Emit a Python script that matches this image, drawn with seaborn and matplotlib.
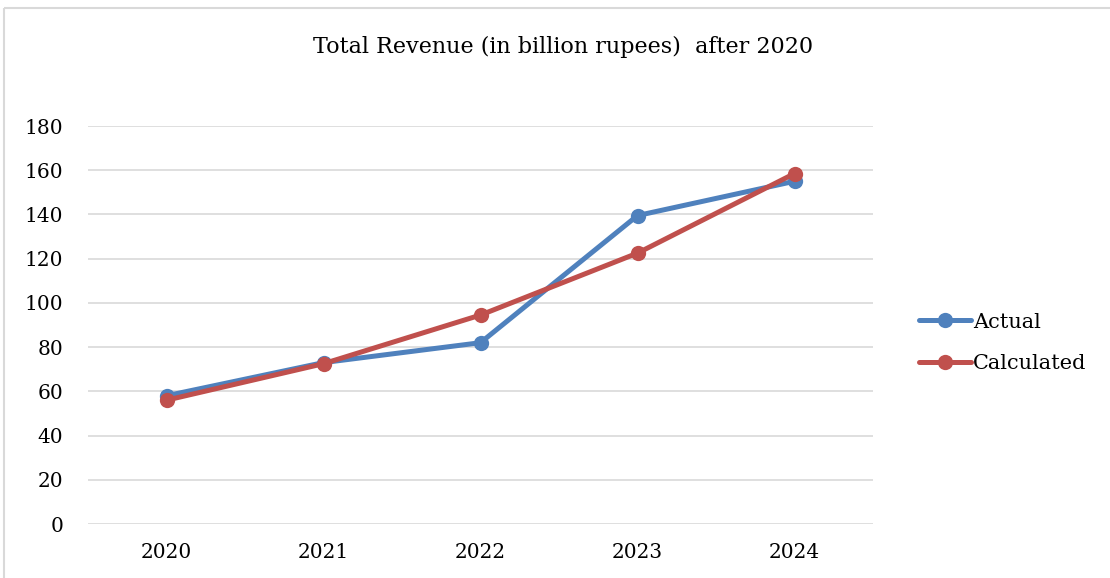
import pandas as pd
import seaborn as sns
import matplotlib.pyplot as plt
from matplotlib.lines import Line2D

# valores
years = [2020, 2021, 2022, 2023, 2024]
actual = [58, 73, 82, 139.5, 155]
calculated = [56, 72.5, 94.5, 122.5, 158.5]
series_names = ['Actual', 'Calculated']
y_ticks = [0, 20, 40, 60, 80, 100, 120, 140, 160, 180]

df = pd.DataFrame({
    'year': years * 2,
    'value': actual + calculated,
    'series': [series_names[0]] * len(years) + [series_names[1]] * len(years),
})

sns.set_style('white')
plt.rcParams['font.family'] = ['DejaVu Serif', 'DejaVu Sans']
plt.rcParams['text.color'] = 'black'

fig = plt.figure(figsize=(11.1, 5.78), dpi=100)
ax = fig.add_axes([88 / 1110, 54 / 578, 785 / 1110, 398 / 578])

palette = {'Actual': '#4F81BD', 'Calculated': '#C0504D'}
sns.lineplot(data=df, x='year', y='value', hue='series', palette=palette,
             marker='o', markersize=11, markeredgewidth=0, linewidth=3.6,
             ax=ax, legend=False)

ax.set_xlim(years[0] - 0.5, years[-1] + 0.5)
ax.set_ylim(0, 180)
ax.set_xticks(years)
ax.set_yticks(y_ticks)
ax.tick_params(axis='both', length=0, labelsize=14.5, labelcolor='black')
ax.tick_params(axis='x', pad=14)
ax.tick_params(axis='y', pad=18)
ax.grid(axis='y', color='#D9D9D9', linewidth=1.2)
ax.set_axisbelow(True)
for s in ax.spines.values():
    s.set_visible(False)
ax.set_xlabel('')
ax.set_ylabel('')

fig.text(0.507, 1 - 47 / 578, 'Total Revenue (in billion rupees)  after 2020',
         ha='center', va='center', fontsize=16, color='black')

handles = [Line2D([], [], color=palette[n], linewidth=3.6, marker='o',
                  markersize=11, markeredgewidth=0) for n in series_names]
fig.legend(handles, series_names, loc='center left',
           bbox_to_anchor=(900 / 1110, 1 - 343 / 578), frameon=False,
           fontsize=15, handlelength=2.5, handletextpad=0.1, labelspacing=1.1,
           labelcolor='black')

# borde del area del grafico
fig.add_artist(Line2D([4 / 1110, 1.01], [1 - 8 / 578, 1 - 8 / 578], color='#D9D9D9',
                      linewidth=1.5, solid_capstyle='butt'))
fig.add_artist(Line2D([4 / 1110, 4 / 1110], [-0.01, 1 - 8 / 578], color='#D9D9D9',
                      linewidth=1.5, solid_capstyle='butt'))

fig.savefig('out.png', dpi=100)
